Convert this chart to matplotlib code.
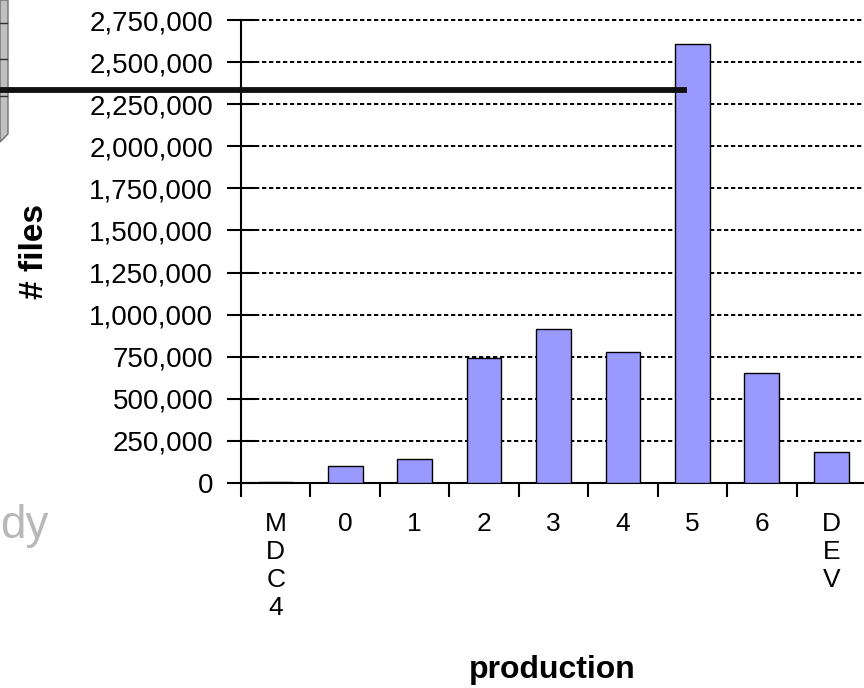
import matplotlib
matplotlib.use("Agg")
import matplotlib.pyplot as plt
from matplotlib.patches import Polygon
from matplotlib.ticker import FuncFormatter, FixedLocator

plt.rcParams["font.family"] = ["Liberation Sans", "DejaVu Sans"]

# data
categories = ["M\nD\nC\n4", "0", "1", "2", "3", "4", "5", "6", "D\nE\nV"]
n_files = [5000, 100000, 143000, 740000, 915000, 780000, 2610000, 655000, 185000]
y_ticks = list(range(0, 2750001, 250000))
marker_level = 2335000  # the heavy black line laid over the chart

fig = plt.figure(figsize=(8.64, 6.88), dpi=100)
fig.patch.set_facecolor("white")
ax = fig.add_axes([241 / 864, 1 - 483 / 688, 625 / 864, 463 / 688])

x = list(range(len(categories)))
ax.bar(x, n_files, width=0.5, color="#9999ff", edgecolor="black", linewidth=1.0, zorder=3)

ax.set_xlim(-0.5, len(categories) - 0.5)
ax.set_ylim(0, 2750000)

# dashed gridlines
ax.yaxis.set_major_locator(FixedLocator(y_ticks))
for v in y_ticks[1:]:
    ax.axhline(v, color="black", lw=1.4, ls=(0, (2.2, 1.4)), zorder=1, clip_on=False)

ax.yaxis.set_major_formatter(FuncFormatter(lambda v, p: f"{int(v):,}"))
ax.tick_params(axis="y", direction="inout", length=20, width=1.5, labelsize=20, pad=10)

# category ticks sit between the bars, labels centred on bars
ax.set_xticks([i - 0.5 for i in x])
ax.set_xticklabels([])
ax.set_xticks(x, minor=True)
ax.set_xticklabels(categories, minor=True, fontsize=19, va="top", linespacing=1.2)
ax.tick_params(axis="x", which="major", direction="out", length=10, width=1.5)
ax.tick_params(axis="x", which="minor", length=0, pad=21)

for s in ["top", "right"]:
    ax.spines[s].set_visible(False)
for s in ["left", "bottom"]:
    ax.spines[s].set_linewidth(1.5)

ax.set_ylabel("# files", fontsize=24, fontweight="bold", labelpad=0)
ax.yaxis.set_label_coords(-0.306, 0.5)
ax.set_xlabel("production", fontsize=23, fontweight="bold")
ax.xaxis.set_label_coords(0.498, -0.372)

# heavy black line from the overlay
ax.axhline(marker_level, xmin=-0.39, xmax=0.709, color="#111111", lw=4.2, zorder=5, clip_on=False)

# cropped grey panel at the top-left edge
W, H = 864, 688
panel = Polygon([(0, 1), (8 / W, 1), (8 / W, 1 - 134 / H), (0, 1 - 142 / H)],
                closed=True, transform=fig.transFigure, facecolor="#c0c0c0",
                edgecolor="#707070", lw=1.0, zorder=-2)
fig.patches.append(panel)
for yy in [23, 59, 96]:
    fig.add_artist(plt.Line2D([0, 7 / W], [1 - yy / H, 1 - yy / H], transform=fig.transFigure,
                              color="#303030", lw=1.0, zorder=-1))

# cropped grey caption at the lower left
fig.text(0, 1 - 538 / H, "dy", fontsize=33, color="#b8b8b8", ha="left", va="baseline")

fig.savefig("out.png", dpi=100)
